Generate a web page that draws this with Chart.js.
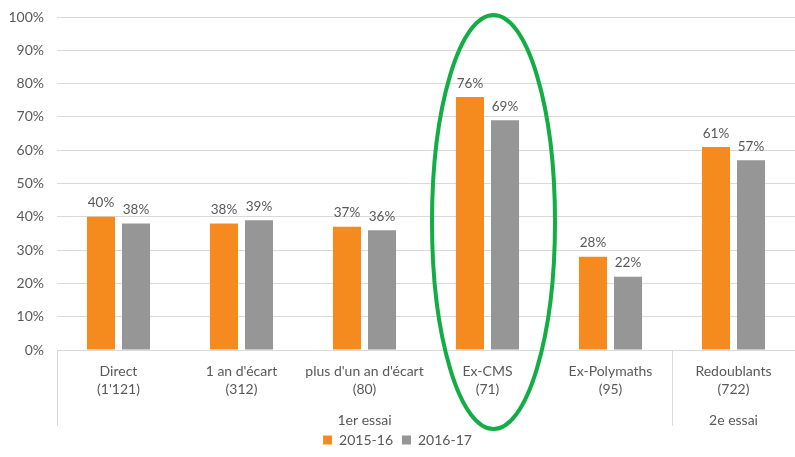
<!DOCTYPE html>
<html>
<head>
<meta charset="utf-8">
<script src="https://cdn.jsdelivr.net/npm/chart.js@4/dist/chart.umd.min.js"></script>
<style>
  html, body { margin: 0; padding: 0; background: #fff; }
  #wrap { width: 795px; height: 457px; position: relative; }
</style>
</head>
<body>
<div id="wrap"><canvas id="chart"></canvas></div>
<script>
const categories = [
  ["Direct", "(1'121)"],
  ["1 an d'écart", "(312)"],
  ["plus d'un an d'écart", "(80)"],
  ["Ex-CMS", "(71)"],
  ["Ex-Polymaths", "(95)"],
  ["Redoublants", "(722)"]
];
const series2015 = [40, 38, 37, 76, 28, 61];
const series2016 = [38, 39, 36, 69, 22, 57];
const seriesNames = ["2015-16", "2016-17"];
const groups = [
  { label: "1er essai", from: 0, to: 4 },
  { label: "2e essai", from: 5, to: 5 }
];
const highlighted = 3;

const textColor = "#595959";
const fontFamily = "Lato, 'Open Sans', sans-serif";

// value labels above bars
const valueLabels = {
  id: "valueLabels",
  afterDatasetsDraw(chart) {
    const ctx = chart.ctx;
    ctx.save();
    ctx.font = "13.5px " + fontFamily;
    ctx.fillStyle = textColor;
    ctx.textAlign = "center";
    ctx.textBaseline = "bottom";
    chart.data.datasets.forEach((ds, i) => {
      chart.getDatasetMeta(i).data.forEach((bar, j) => {
        ctx.fillText(ds.data[j] + "%", bar.x, bar.y - 7);
      });
    });
    ctx.restore();
  }
};

// multi-level category axis: separators and group names
const groupAxis = {
  id: "groupAxis",
  afterDraw(chart) {
    const ctx = chart.ctx;
    const x = chart.scales.x;
    const half = (x.getPixelForTick(1) - x.getPixelForTick(0)) / 2;
    ctx.save();
    ctx.strokeStyle = "#d9d9d9";
    ctx.lineWidth = 1;
    ctx.font = "14px " + fontFamily;
    ctx.fillStyle = textColor;
    ctx.textAlign = "center";
    ctx.textBaseline = "middle";
    groups.forEach(g => {
      const left = x.getPixelForTick(g.from) - half;
      const right = x.getPixelForTick(g.to) + half;
      ctx.beginPath();
      ctx.moveTo(Math.round(left) + 0.5, x.top);
      ctx.lineTo(Math.round(left) + 0.5, x.bottom + 2);
      ctx.stroke();
      ctx.fillText(g.label, (left + right) / 2, x.bottom - 4);
    });
    ctx.restore();
  }
};

// green ellipse around the highlighted category
const highlight = {
  id: "highlight",
  afterDraw(chart) {
    const ctx = chart.ctx;
    const x = chart.scales.x;
    const y = chart.scales.y;
    const cx = x.getPixelForTick(highlighted) + 6;
    const top = y.getPixelForValue(100.6);
    const bottom = x.bottom + 5;
    const rx = (x.getPixelForTick(1) - x.getPixelForTick(0)) / 2;
    ctx.save();
    ctx.strokeStyle = "#12ad45";
    ctx.lineWidth = 4;
    ctx.beginPath();
    ctx.ellipse(cx, (top + bottom) / 2, rx, (bottom - top) / 2, 0, 0, Math.PI * 2);
    ctx.stroke();
    ctx.restore();
  }
};

new Chart(document.getElementById("chart"), {
  type: "bar",
  data: {
    labels: categories,
    datasets: [
      { label: seriesNames[0], data: series2015, backgroundColor: "#f58b1f" },
      { label: seriesNames[1], data: series2016, backgroundColor: "#969696" }
    ]
  },
  options: {
    responsive: true,
    maintainAspectRatio: false,
    animation: false,
    datasets: { bar: { categoryPercentage: 0.57, barPercentage: 0.8 } },
    layout: { padding: { top: 17, left: 0, right: 0, bottom: 0 } },
    plugins: {
      tooltip: { enabled: false },
      legend: {
        position: "bottom",
        labels: {
          color: textColor,
          font: { size: 14, family: fontFamily },
          boxWidth: 9,
          boxHeight: 9,
          padding: 9
        }
      }
    },
    scales: {
      x: {
        grid: { display: false },
        border: { color: "#d9d9d9" },
        ticks: {
          color: textColor,
          font: { size: 14, family: fontFamily, lineHeight: 1.3 },
          padding: 4,
          maxRotation: 0,
          autoSkip: false
        },
        afterFit(scale) { scale.height += 21.5; }
      },
      y: {
        min: 0,
        max: 100,
        border: { display: false },
        grid: { color: "#d9d9d9", drawTicks: false },
        ticks: {
          stepSize: 10,
          color: textColor,
          padding: 13,
          font: { size: 14, family: fontFamily },
          callback: v => v + "%"
        },
        afterFit(scale) {
          scale.width = 57;
          scale.paddingTop = 0;
          scale.paddingBottom = 0;
        }
      }
    }
  },
  plugins: [valueLabels, groupAxis, highlight]
});
</script>
</body>
</html>
